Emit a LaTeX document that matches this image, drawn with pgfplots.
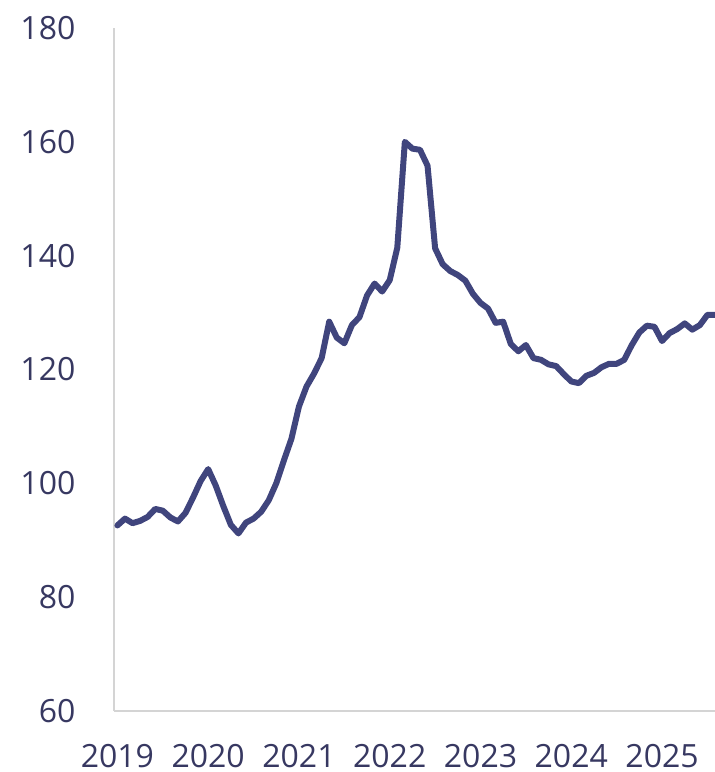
\documentclass[border=0pt]{standalone}
\usepackage{pgfplots}
\pgfplotsset{compat=1.18}
\usepackage{pgfplotstable}
\usepackage{fontspec}
\setmainfont{Open Sans}
\definecolor{linec}{RGB}{64,69,125}
\definecolor{textc}{RGB}{55,56,97}
\definecolor{axisc}{RGB}{212,212,212}
\pgfplotstableread{
m v
0 92.6
1 93.8
2 93.0
3 93.4
4 94.1
5 95.5
6 95.2
7 94.0
8 93.3
9 94.8
10 97.5
11 100.4
12 102.5
13 99.6
14 96.0
15 92.7
16 91.2
17 93.1
18 93.8
19 95.0
20 97.0
21 100.0
22 104.0
23 107.8
24 113.5
25 117.0
26 119.3
27 122.0
28 128.4
29 125.6
30 124.6
31 127.8
32 129.2
33 133.0
34 135.1
35 133.7
36 135.7
37 141.4
38 160.0
39 158.8
40 158.6
41 155.8
42 141.3
43 138.5
44 137.3
45 136.6
46 135.6
47 133.3
48 131.7
49 130.7
50 128.2
51 128.4
52 124.5
53 123.2
54 124.3
55 122.0
56 121.7
57 120.9
58 120.6
59 119.2
60 117.9
61 117.6
62 118.9
63 119.4
64 120.4
65 121.0
66 121.0
67 121.7
68 124.3
69 126.5
70 127.7
71 127.5
72 125.0
73 126.4
74 127.1
75 128.1
76 127.0
77 127.8
78 129.6
79 129.6
}\datatable
\begin{document}
\begin{tikzpicture}
\useasboundingbox (0,0) rectangle (357.5bp,386bp);
\begin{axis}[
  at={(57bp,30.5bp)}, anchor=south west,
  scale only axis, width=300.5bp, height=341.5bp,
  xmin=-0.45, xmax=79, ymin=60, ymax=180,
  axis lines=left,
  axis line style={axisc, line width=1bp, -},
  tick style={draw=none},
  ytick={60,80,...,180},
  xtick={0,12,...,72},
  xticklabels={2019,2020,2021,2022,2023,2024,2025},
  /pgf/number format/assume math mode=true,
  yticklabel style={font=\fontsize{16bp}{19bp}\selectfont, text=textc, anchor=base east, inner sep=0pt, xshift=-17bp, yshift=-5.75bp},
  xticklabel style={font=\fontsize{16bp}{19bp}\selectfont, text=textc, anchor=base, inner sep=0pt, yshift=-26bp},
  clip=true,
]
\addplot[linec, line width=3bp, line join=round, line cap=round, mark=none] table[x=m, y=v] {\datatable};
\end{axis}
\end{tikzpicture}
\end{document}
